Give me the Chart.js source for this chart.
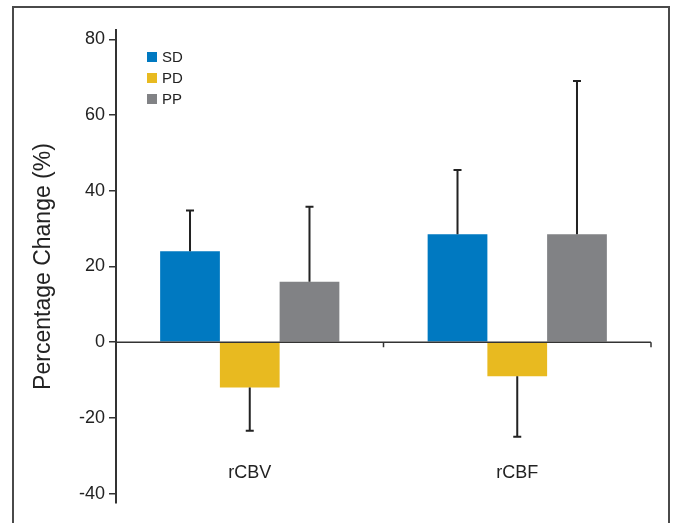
<!DOCTYPE html>
<html>
<head>
<meta charset="utf-8">
<script src="https://cdn.jsdelivr.net/npm/chart.js"></script>
<style>
  html, body { margin: 0; padding: 0; background: #fff; }
  #wrap { position: relative; width: 679px; height: 523px; }
  #frame { position: absolute; left: 12px; top: 6px; width: 654px; height: 530px;
           border: 2px solid #4a4a4a; border-bottom: none; }
  canvas { position: absolute; left: 0; top: 0; }
</style>
</head>
<body>
<div id="wrap">
  <div id="frame"></div>
  <canvas id="perfChart" width="679" height="523"></canvas>
</div>
<script>
  // values
  const categories = ['rCBV', 'rCBF'];
  const groups = ['SD', 'PD', 'PP'];
  const sdValues = [24, 28.5];
  const pdValues = [-12, -9];
  const ppValues = [16, 28.5];
  // one-sided error bars (away from zero)
  const sdErrors = [10.8, 17];
  const pdErrors = [11.4, 16];
  const ppErrors = [19.8, 40.5];
  const yTicks = [-40, -20, 0, 20, 40, 60, 80];

  const colors = ['#0079c1', '#e8ba20', '#818285'];
  const font = 'Arial, "Liberation Sans", sans-serif';

  // error bars, zero line, category labels and legend
  const extras = {
    id: 'extras',
    afterDatasetsDraw(chart) {
      const ctx = chart.ctx;
      const x = chart.scales.x;
      const y = chart.scales.y;
      const y0 = y.getPixelForValue(0);

      ctx.save();
      // error bars
      ctx.strokeStyle = '#222';
      ctx.lineWidth = 2;
      chart.data.datasets.forEach((ds, di) => {
        const meta = chart.getDatasetMeta(di);
        meta.data.forEach((bar, i) => {
          const v = ds.data[i];
          const e = ds.errors[i];
          const end = v >= 0 ? v + e : v - e;
          const yb = y.getPixelForValue(v);
          const ye = y.getPixelForValue(end);
          ctx.beginPath();
          ctx.moveTo(bar.x, yb);
          ctx.lineTo(bar.x, ye);
          ctx.moveTo(bar.x - 4, ye);
          ctx.lineTo(bar.x + 4, ye);
          ctx.stroke();
        });
      });

      // zero line with category ticks
      ctx.strokeStyle = '#333';
      ctx.lineWidth = 1.5;
      ctx.beginPath();
      ctx.moveTo(x.left, y0);
      ctx.lineTo(x.right, y0);
      const step = (x.right - x.left) / categories.length;
      for (let i = 1; i <= categories.length; i++) {
        const tx = x.left + step * i;
        ctx.moveTo(tx, y0);
        ctx.lineTo(tx, y0 + 5);
      }
      ctx.stroke();

      // category labels
      ctx.fillStyle = '#222';
      ctx.font = '18px ' + font;
      ctx.textAlign = 'center';
      ctx.textBaseline = 'middle';
      categories.forEach((c, i) => {
        ctx.fillText(c, x.getPixelForValue(i), y.getPixelForValue(-34.5));
      });

      // legend
      ctx.font = '15px ' + font;
      ctx.textAlign = 'left';
      chart.data.datasets.forEach((ds, di) => {
        const ly = 57 + di * 21;
        ctx.fillStyle = ds.backgroundColor;
        ctx.fillRect(147, ly - 5, 10, 10);
        ctx.fillStyle = '#222';
        ctx.fillText(ds.label, 162, ly + 1);
      });
      ctx.restore();
    }
  };

  const ctx = document.getElementById('perfChart').getContext('2d');
  new Chart(ctx, {
    type: 'bar',
    data: {
      labels: categories,
      datasets: [
        { label: groups[0], data: sdValues, errors: sdErrors, backgroundColor: colors[0] },
        { label: groups[1], data: pdValues, errors: pdErrors, backgroundColor: colors[1] },
        { label: groups[2], data: ppValues, errors: ppErrors, backgroundColor: colors[2] }
      ]
    },
    options: {
      responsive: false,
      animation: false,
      layout: { padding: { top: 30, bottom: 20, right: 28, left: 0 } },
      datasets: {
        bar: { categoryPercentage: 0.67, barPercentage: 1, borderWidth: 0 }
      },
      plugins: {
        legend: { display: false },
        tooltip: { enabled: false }
      },
      scales: {
        x: { display: false },
        y: {
          min: -42.5,
          max: 82.5,
          afterBuildTicks: (scale) => { scale.ticks = yTicks.map(v => ({ value: v })); },
          afterFit: (scale) => { scale.width = 116; },
          grid: { drawOnChartArea: false, tickLength: 7, color: '#333', lineWidth: 1.5 },
          border: { display: true, color: '#333', width: 2 },
          ticks: { color: '#222', font: { size: 18, family: font }, padding: 4 },
          title: {
            display: true,
            text: 'Percentage Change (%)',
            color: '#222',
            font: { size: 23, family: font },
            padding: { top: 30 }
          }
        }
      }
    },
    plugins: [extras]
  });
</script>
</body>
</html>
